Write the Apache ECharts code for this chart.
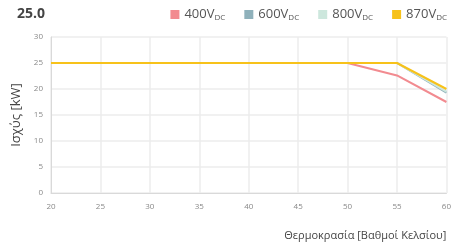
<!DOCTYPE html>
<html>
<head>
<meta charset="utf-8">
<script src="https://cdn.jsdelivr.net/npm/echarts@6/dist/echarts.min.js"></script>
<style>
  html, body { margin: 0; padding: 0; background: #fff; }
  #chart { width: 454px; height: 247px; }
</style>
</head>
<body>
<div id="chart"></div>
<script>
// θερμοκρασία (x) και ισχύς (y) ανά τάση
var temps = [20, 25, 30, 35, 40, 45, 50, 55, 60];
var v400 = [25, 25, 25, 25, 25, 25, 25, 22.6, 17.5];
var v600 = [25, 25, 25, 25, 25, 25, 25, 25, 19.3];
var v800 = [25, 25, 25, 25, 25, 25, 25, 25, 19.5];
var v870 = [25, 25, 25, 25, 25, 25, 25, 25, 20];
var seriesNames = ['400', '600', '800', '870'];
var colors = ['#f28b90', '#8fb1bb', '#cde7dd', '#f7c21a'];

function pairs(vals) {
  return temps.map(function (t, i) { return [t, vals[i]]; });
}

var chart = echarts.init(document.getElementById('chart'));

var allVals = [v400, v600, v800, v870];
var serieslist = [];
for (var i = 0; i < seriesNames.length; i++) {
  serieslist.push({
    name: seriesNames[i],
    type: 'line',
    data: pairs(allVals[i]),
    showSymbol: false,
    symbol: 'none',
    lineStyle: { color: colors[i], width: 2 },
    itemStyle: { color: colors[i] },
    z: 2 + i
  });
}

var option = {
  animation: false,
  textStyle: { fontFamily: 'Open Sans' },
  title: {
    text: '25.0',
    left: 12,
    top: 2,
    textStyle: { fontSize: 14, fontWeight: 'bold', color: '#444', fontFamily: 'Open Sans' }
  },
  legend: {
    right: 2,
    top: 3,
    icon: 'rect',
    itemWidth: 9,
    itemHeight: 9,
    itemGap: 19,
    data: seriesNames,
    formatter: function (n) { return n + '{v|V}{s|DC}'; },
    textStyle: {
      fontSize: 13,
      color: '#555',
      rich: {
        v: { fontSize: 13, color: '#555' },
        s: { fontSize: 8, color: '#555', verticalAlign: 'bottom', padding: [6, 0, 0, 0] }
      }
    }
  },
  grid: { left: 51, right: 5, top: 37, bottom: 54, containLabel: false },
  xAxis: {
    type: 'value',
    min: 20,
    max: 60,
    interval: 5,
    name: 'Θερμοκρασία [Βαθμοί Κελσίου]',
    nameLocation: 'end',
    nameGap: 0,
    nameTextStyle: { fontSize: 11, color: '#444', align: 'right', verticalAlign: 'top', padding: [37, 0, 0, 0] },
    axisLine: { show: true, lineStyle: { color: '#d9d9d9', width: 1 } },
    axisTick: { show: false },
    axisLabel: { fontSize: 8, color: '#888', margin: 10 },
    splitLine: { show: true, lineStyle: { color: '#ececec', width: 1.5 } }
  },
  yAxis: {
    type: 'value',
    min: 0,
    max: 30,
    interval: 5,
    name: 'Ισχύς [kW]',
    nameLocation: 'middle',
    nameGap: 28,
    nameTextStyle: { fontSize: 13, color: '#444' },
    axisLine: { show: true, lineStyle: { color: '#d9d9d9', width: 1 } },
    axisTick: { show: false },
    axisLabel: { fontSize: 8, color: '#888', margin: 8 },
    splitLine: { show: true, lineStyle: { color: '#ececec', width: 1.5 } }
  },
  series: serieslist
};

chart.setOption(option);
</script>
</body>
</html>
